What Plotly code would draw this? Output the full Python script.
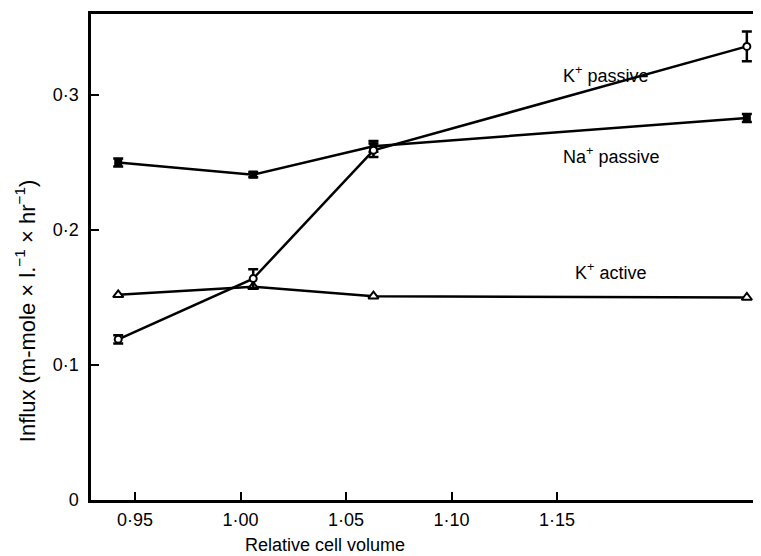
import plotly.graph_objects as go

# Data
rel_volume = [0.942, 1.006, 1.063, 1.240]

k_passive = [0.119, 0.164, 0.259, 0.336]
k_passive_err = [0.003, 0.007, 0.005, 0.011]

na_passive = [0.250, 0.241, 0.262, 0.283]
na_passive_err = [0.003, 0.002, 0.004, 0.003]

k_active = [0.152, 0.158, 0.151, 0.150]

x_tickvals = [0.95, 1.00, 1.05, 1.10, 1.15]
x_ticktext = ["0·95", "1·00", "1·05", "1·10", "1·15"]
y_tickvals = [0, 0.1, 0.2, 0.3]
y_ticktext = ["0", "0·1", "0·2", "0·3"]

FONT = "Liberation Sans, Arial, sans-serif"
LW = 2.5

fig = go.Figure()

fig.add_trace(go.Scatter(
    x=rel_volume, y=na_passive, mode="lines+markers", name="Na+ passive",
    line=dict(color="black", width=LW),
    marker=dict(symbol="square", size=8, color="black"),
    error_y=dict(type="data", array=na_passive_err, visible=True,
                 color="black", thickness=2.5, width=5),
))
fig.add_trace(go.Scatter(
    x=rel_volume, y=k_active, mode="lines+markers", name="K+ active",
    line=dict(color="black", width=LW),
    marker=dict(symbol="triangle-up", size=9, color="white",
                line=dict(color="black", width=2)),
))
fig.add_trace(go.Scatter(
    x=rel_volume, y=k_passive, mode="lines+markers", name="K+ passive",
    line=dict(color="black", width=LW),
    marker=dict(symbol="circle", size=7, color="white",
                line=dict(color="black", width=2)),
    error_y=dict(type="data", array=k_passive_err, visible=True,
                 color="black", thickness=2.5, width=5),
))

labels = [
    ("K<sup>+</sup> passive", 0.693, 0.8765),
    ("Na<sup>+</sup> passive", 0.693, 0.708),
    ("K<sup>+</sup> active", 0.711, 0.471),
]
for txt, xp, yp in labels:
    fig.add_annotation(text=txt, xref="paper", yref="paper", x=xp, y=yp,
                       xanchor="left", yanchor="middle", showarrow=False,
                       font=dict(family=FONT, size=18, color="black"))

fig.add_annotation(text="Relative cell volume", xref="paper", yref="paper",
                   x=0.345, y=-0.0935, xanchor="center", yanchor="middle",
                   showarrow=False, font=dict(family=FONT, size=18, color="black"))
fig.add_annotation(text="Influx (m-mole × l.<sup>−1</sup> × hr<sup>−1</sup>)",
                   xref="paper", yref="paper", x=-0.097, y=0.389,
                   xanchor="center", yanchor="middle", textangle=-90,
                   showarrow=False, font=dict(family=FONT, size=22, color="black"))

fig.update_layout(
    width=761, height=556,
    margin=dict(l=83, r=0, t=6, b=64),
    paper_bgcolor="white", plot_bgcolor="white",
    showlegend=False,
    font=dict(family=FONT, size=18, color="black"),
    xaxis=dict(range=[0.9291, 1.2505], showgrid=False, zeroline=False,
               showline=True, linecolor="black", linewidth=2.5, mirror=True,
               ticks="inside", ticklen=8, tickwidth=2, tickcolor="black",
               tickvals=x_tickvals, ticktext=x_ticktext, ticklabelstandoff=2),
    yaxis=dict(range=[0, 0.36], showgrid=False, zeroline=False,
               showline=True, linecolor="black", linewidth=2.5, mirror=False,
               ticks="inside", ticklen=8, tickwidth=2, tickcolor="black",
               tickvals=y_tickvals, ticktext=y_ticktext, ticklabelstandoff=6),
)

fig.write_html("out.html")
